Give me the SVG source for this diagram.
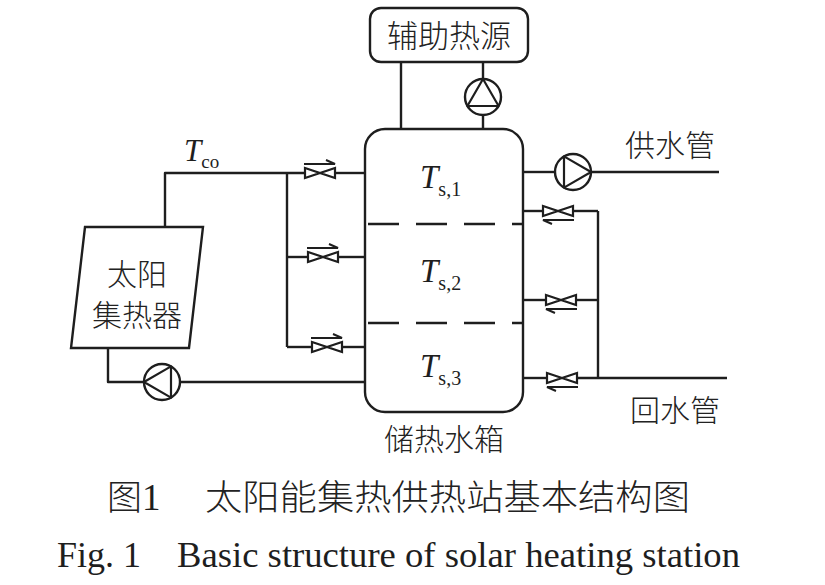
<svg xmlns="http://www.w3.org/2000/svg" width="825" height="585" viewBox="0 0 825 585">
<style>
.ln{fill:none;stroke:#1e1e1e;stroke-width:2.4;stroke-linejoin:round}
.bx{fill:#fff;stroke:#1e1e1e;stroke-width:2.4}
.cjk{font-family:"Noto Sans CJK SC",sans-serif;font-weight:300;fill:#222}
.ser{font-family:"Liberation Serif",serif;fill:#1e1e1e}
.it{font-style:italic}
.dash{fill:none;stroke:#1e1e1e;stroke-width:2.4;stroke-dasharray:31 17}
</style>
<defs>
<g id="valve"><path d="M-15,-5 L-15,5 L15,-5 L15,5 Z" fill="#fff" stroke="#1e1e1e" stroke-width="2.2" stroke-linejoin="miter"/></g>
<g id="arrR"><path d="M-16,-9 L15,-9 L6,-13" fill="none" stroke="#1e1e1e" stroke-width="2"/></g>
<g id="arrL"><path d="M16,9 L-15,9 L-6,13" fill="none" stroke="#1e1e1e" stroke-width="2"/></g>
<g id="pump"><circle r="18" fill="#fff" stroke="#1e1e1e" stroke-width="2.4"/><path d="M18,0 L-9,-15.6 L-9,15.6 Z" fill="none" stroke="#1e1e1e" stroke-width="2.2" stroke-linejoin="round"/></g>
</defs>

<g id="connectors">
<polyline class="ln" points="165,227 165,173 305,173"/>
<line class="ln" x1="335" y1="173" x2="365" y2="173"/>
<line class="ln" x1="287" y1="173" x2="287" y2="347"/>
<line class="ln" x1="287" y1="257" x2="308" y2="257"/>
<line class="ln" x1="338" y1="257" x2="365" y2="257"/>
<line class="ln" x1="287" y1="347" x2="312" y2="347"/>
<line class="ln" x1="342" y1="347" x2="365" y2="347"/>
<polyline class="ln" points="108,348 108,382 144,382"/>
<line class="ln" x1="180" y1="382" x2="365" y2="382"/>
<line class="ln" x1="401" y1="62" x2="401" y2="129"/>
<line class="ln" x1="483" y1="62" x2="483" y2="79"/>
<line class="ln" x1="483" y1="115" x2="483" y2="129"/>
<line class="ln" x1="523" y1="172" x2="555" y2="172"/>
<line class="ln" x1="591" y1="172" x2="719" y2="172"/>
<line class="ln" x1="523" y1="211" x2="543" y2="211"/>
<line class="ln" x1="573" y1="211" x2="598" y2="211"/>
<line class="ln" x1="523" y1="300" x2="546" y2="300"/>
<line class="ln" x1="576" y1="300" x2="598" y2="300"/>
<line class="ln" x1="523" y1="378" x2="547" y2="378"/>
<line class="ln" x1="577" y1="378" x2="727" y2="378"/>
<line class="ln" x1="598" y1="211" x2="598" y2="378"/>
</g>

<g id="collector">
<polygon class="bx" points="85,227 203,227 189,348 71,348"/>
<text class="cjk" x="137" y="285" font-size="30" text-anchor="middle">太阳</text>
<text class="cjk" x="137" y="326" font-size="30" text-anchor="middle">集热器</text>
</g>

<g id="aux-heater">
<rect class="bx" x="370" y="8" width="158" height="54" rx="11"/>
<text class="cjk" x="449" y="47" font-size="31" text-anchor="middle">辅助热源</text>
</g>

<g id="tank">
<rect class="bx" x="365" y="129" width="158" height="283" rx="20"/>
<line class="dash" x1="365" y1="224" x2="523" y2="224" stroke-dashoffset="-3"/>
<line class="dash" x1="365" y1="323" x2="523" y2="323" stroke-dashoffset="-3"/>
<text class="ser" x="420" y="188" font-size="33"><tspan class="it">T</tspan><tspan font-size="20" dx="0" dy="8">s,1</tspan></text>
<text class="ser" x="420" y="282" font-size="33"><tspan class="it">T</tspan><tspan font-size="20" dx="0" dy="8">s,2</tspan></text>
<text class="ser" x="420" y="377" font-size="33"><tspan class="it">T</tspan><tspan font-size="20" dx="0" dy="8">s,3</tspan></text>
<text class="cjk" x="444" y="450" font-size="30" text-anchor="middle">储热水箱</text>
</g>

<g id="pump-aux"><use href="#pump" transform="translate(483,97) rotate(-90)"/></g>
<g id="pump-supply"><use href="#pump" transform="translate(573,172)"/></g>
<g id="pump-collector"><use href="#pump" transform="translate(162,382) rotate(180)"/></g>

<g id="valves-left">
<use href="#valve" x="320" y="173"/><use href="#arrR" x="320" y="173"/>
<use href="#valve" x="323" y="257"/><use href="#arrR" x="323" y="257"/>
<use href="#valve" x="327" y="347"/><use href="#arrR" x="327" y="347"/>
</g>
<g id="valves-right">
<use href="#valve" x="558" y="211"/><use href="#arrL" x="558" y="211"/>
<use href="#valve" x="561" y="300"/><use href="#arrL" x="561" y="300"/>
<use href="#valve" x="562" y="378"/><use href="#arrL" x="562" y="378"/>
</g>

<g id="labels">
<text class="ser" x="184" y="161" font-size="31"><tspan class="it">T</tspan><tspan font-size="19" dx="0" dy="7">co</tspan></text>
<text class="cjk" x="625" y="156" font-size="30">供水管</text>
<text class="cjk" x="630" y="421" font-size="30">回水管</text>
</g>

<g id="caption">
<text class="cjk" x="107" y="510" font-size="35">图<tspan class="ser" font-size="37">1</tspan></text>
<text class="cjk" x="205" y="510" font-size="35" textLength="485" lengthAdjust="spacingAndGlyphs">太阳能集热供热站基本结构图</text>
<text class="ser" x="57" y="567" font-size="36">Fig. 1</text>
<text class="ser" x="177" y="567" font-size="36" textLength="563" lengthAdjust="spacingAndGlyphs">Basic structure of solar heating station</text>
</g>
</svg>
